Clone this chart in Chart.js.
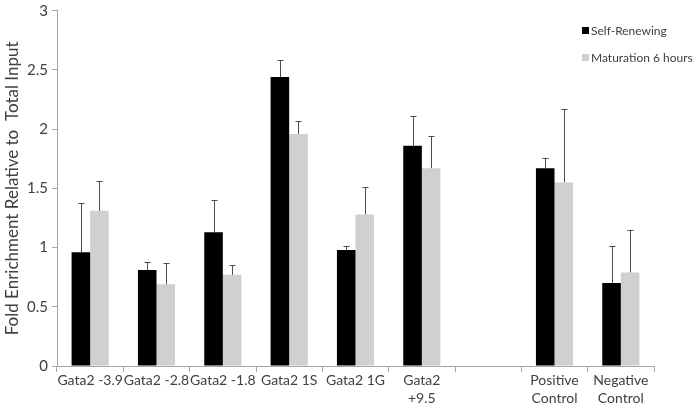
<!DOCTYPE html>
<html>
<head>
<meta charset="utf-8">
<script src="https://cdn.jsdelivr.net/npm/chart.js@4/dist/chart.umd.min.js"></script>
<style>
  html, body { margin: 0; padding: 0; background: #fff; }
  #wrap { width: 700px; height: 412px; position: relative; }
</style>
</head>
<body>
<div id="wrap"><canvas id="c"></canvas></div>
<script>
// categories (the empty one is a gap in the original figure)
const categories = ["Gata2 -3.9", "Gata2 -2.8", "Gata2 -1.8", "Gata2 1S", "Gata2 1G",
  ["Gata2", "+9.5"], "", ["Positive", "Control"], ["Negative", "Control"]];

// Self-Renewing
const selfRenewing = [0.96, 0.81, 1.13, 2.44, 0.98, 1.86, null, 1.67, 0.70];
const selfRenewingErr = [0.42, 0.07, 0.27, 0.14, 0.035, 0.25, null, 0.085, 0.31];

// Maturation 6 hours
const maturation = [1.31, 0.69, 0.77, 1.96, 1.28, 1.67, null, 1.55, 0.79];
const maturationErr = [0.25, 0.18, 0.08, 0.11, 0.23, 0.27, null, 0.62, 0.36];

const yTicks = [0, 0.5, 1, 1.5, 2, 2.5, 3];

const FONT = "Lato, 'Open Sans', sans-serif";
const TXT = "#404040";
const AXIS = "#a6a6a6";

// draws the upper error bars from the arrays above
const errorBars = {
  id: "errorBars",
  afterDatasetsDraw(chart) {
    const ctx = chart.ctx;
    const ys = chart.scales.y;
    const errs = [selfRenewingErr, maturationErr];
    ctx.save();
    ctx.strokeStyle = "#4d4d4d";
    ctx.lineWidth = 1;
    chart.data.datasets.forEach((ds, di) => {
      const meta = chart.getDatasetMeta(di);
      meta.data.forEach((bar, i) => {
        const v = ds.data[i];
        const e = errs[di][i];
        if (v == null || e == null) return;
        const x = Math.round(bar.x) + 0.5;
        const yTop = Math.round(ys.getPixelForValue(v + e)) + 0.5;
        const yBase = ys.getPixelForValue(v);
        ctx.beginPath();
        ctx.moveTo(x, yBase);
        ctx.lineTo(x, yTop);
        ctx.moveTo(x - 3, yTop);
        ctx.lineTo(x + 3, yTop);
        ctx.stroke();
      });
    });
    ctx.restore();
  }
};

// legend in the top right corner, like the original
const sideLegend = {
  id: "sideLegend",
  afterDraw(chart) {
    const ctx = chart.ctx;
    const items = [["Self-Renewing", "#000000"], ["Maturation 6 hours", "#d0d0d0"]];
    ctx.save();
    ctx.font = "12px " + FONT;
    ctx.textBaseline = "middle";
    items.forEach((it, i) => {
      const y = 31 + i * 27;
      ctx.fillStyle = it[1];
      ctx.fillRect(582, y - 4, 7, 7);
      ctx.fillStyle = TXT;
      ctx.fillText(it[0], 591, y);
    });
    ctx.restore();
  }
};

new Chart(document.getElementById("c"), {
  type: "bar",
  data: {
    labels: categories,
    datasets: [
      { label: "Self-Renewing", data: selfRenewing, backgroundColor: "#000000",
        categoryPercentage: 0.56, barPercentage: 1.0 },
      { label: "Maturation 6 hours", data: maturation, backgroundColor: "#d0d0d0",
        categoryPercentage: 0.56, barPercentage: 1.0 }
    ]
  },
  options: {
    responsive: true,
    maintainAspectRatio: false,
    animation: false,
    layout: { padding: { top: 0, right: 46, left: 2, bottom: 0 } },
    plugins: {
      legend: { display: false },
      tooltip: { enabled: false }
    },
    scales: {
      x: {
        grid: { display: true, drawOnChartArea: false, offset: true, tickLength: 6, color: AXIS },
        border: { color: AXIS },
        ticks: { color: TXT, font: { family: FONT, size: 14, lineHeight: 1.25 }, maxRotation: 0, autoSkip: false, padding: 0 },
        afterFit(s) { s.height = 46; }
      },
      y: {
        min: 0, max: 3,
        afterBuildTicks(s) { s.ticks = yTicks.map(v => ({ value: v })); },
        grid: { display: true, drawOnChartArea: false, tickLength: 5, color: AXIS },
        border: { color: AXIS },
        ticks: { color: TXT, font: { family: FONT, size: 15, lineHeight: 0.9 }, padding: 4,
          callback: v => String(v) },
        title: { display: true, text: "Fold Enrichment Relative to  Total Input",
          color: TXT, font: { family: FONT, size: 17 }, padding: 0 },
        afterFit(s) { s.width = 55; }
      }
    }
  },
  plugins: [errorBars, sideLegend]
});
</script>
</body>
</html>
